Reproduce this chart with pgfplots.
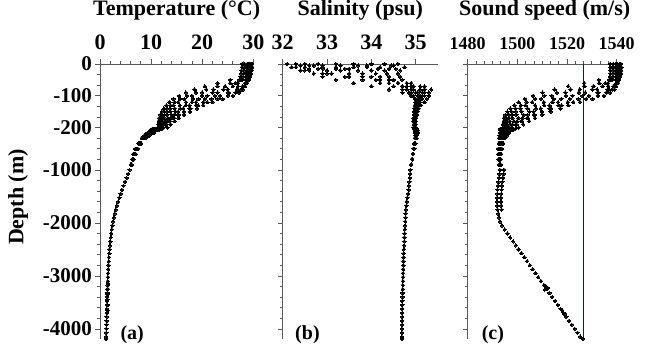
\documentclass[border=0pt]{standalone}
\usepackage{pgfplots}
\pgfplotsset{compat=1.18}
\usepackage{pgfplotstable}
\usepackage{fontspec}
\setmainfont{Liberation Serif}
\newcommand\ft[1]{\fontsize{#1bp}{#1bp}\selectfont\bfseries}

% upper-ocean temperature casts (depth m, deg C)
\pgfplotstableread{
d c1 c2 c3 c4 c5 c6 c7 c8 c9
0 29.8 28.8 29.5 29.0 28.3 29.6 27.8 29.2 28.9
-10 29.8 28.8 29.5 29.0 28.3 29.5 27.8 29.2 28.9
-20 29.7 28.7 29.4 29.0 28.2 29.5 27.7 29.1 28.8
-30 29.6 28.7 29.3 28.9 28.1 29.4 27.6 29.1 28.5
-40 29.2 28.6 29.2 28.8 28.0 29.3 27.5 29.0 27.5
-50 27.8 28.6 29.0 28.7 27.6 29.1 27.3 28.9 25.5
-60 25.5 28.5 28.5 28.4 26.5 28.8 27.0 28.7 23.0
-70 23.0 28.4 27.0 27.9 24.5 28.2 26.0 28.3 20.5
-80 20.8 28.0 25.0 26.8 22.2 27.0 24.2 27.6 18.5
-90 18.8 27.2 23.0 25.2 20.0 25.0 22.0 26.5 16.8
-100 17.0 26.0 21.0 23.5 18.0 22.5 20.0 25.0 15.5
-110 15.7 24.0 19.3 21.8 16.5 20.5 18.2 23.0 14.4
-120 14.6 22.0 18.0 20.2 15.3 18.8 16.8 21.0 13.6
-130 13.8 20.2 16.8 18.8 14.4 17.5 15.6 19.2 13.0
-140 13.1 19.0 15.7 17.5 13.7 16.3 14.6 17.7 12.5
-150 12.6 17.6 14.8 16.4 13.1 15.3 13.8 16.4 12.1
-160 12.2 16.4 14.0 15.4 12.6 14.5 13.1 15.3 11.8
-170 11.9 15.4 13.3 14.5 12.2 13.8 12.6 14.4 11.6
-180 11.7 14.6 12.7 13.7 11.9 13.1 12.2 13.6 11.5
-190 11.6 13.8 12.2 13.0 11.7 12.5 11.9 12.9 11.4
-200 11.5 13.2 11.8 12.4 11.6 12.0 11.7 12.3 11.3
-225 10.4 12.2 11.0 11.8 10.6 11.4 10.8 11.6 10.2
-250 10.02 11.46 10.5 11.14 10.18 10.82 10.34 10.98 9.86
-300 9.44 10.52 9.8 10.28 9.56 10.04 9.68 10.16 9.32
-350 8.8 9.7 9.1 9.5 8.9 9.3 9.0 9.4 8.7
-400 8.26 8.98 8.5 8.82 8.34 8.66 8.42 8.74 8.18
-500 7.52 8.06 7.7 7.94 7.58 7.82 7.64 7.88 7.46
-600 6.95 7.4 7.1 7.3 7.0 7.2 7.05 7.25 6.9
-700 6.58 6.94 6.7 6.86 6.62 6.78 6.66 6.82 6.54
-800 6.31 6.58 6.4 6.52 6.34 6.46 6.37 6.49 6.28
-900 6.04 6.22 6.1 6.18 6.06 6.14 6.08 6.16 6.02
}\Tup

% upper-ocean salinity casts (psu)
\pgfplotstableread{
d c1 c2 c3 c4 c5 c6 c7 c8 c9
0 32.1 32.5 33.2 33.6 34.0 34.3 34.6 32.8 32.3
-5 32.4 32.7 32.9 33.9 33.7 34.45 34.5 33.3 32.6
-10 32.2 32.5 33.2 33.6 33.9 34.2 34.75 32.9 32.3
-15 32.6 32.9 33.5 33.4 34.15 34.55 34.4 33.2 32.8
-20 32.4 32.6 33.3 33.7 34.0 34.3 34.65 33.0 32.5
-30 32.9 32.7 33.5 33.8 34.1 34.35 34.6 33.1 33.0
-40 33.5 32.9 33.8 34.0 34.2 34.4 34.65 33.4 33.8
-50 34.2 33.2 34.1 34.4 34.4 34.5 34.7 33.8 34.5
-60 34.6 33.6 34.4 34.9 34.6 34.6 34.8 34.2 34.9
-70 34.9 34.0 34.7 35.2 34.8 34.7 34.95 34.5 35.1
-80 35.1 34.4 34.9 35.35 34.95 34.8 35.1 34.7 35.2
-90 35.2 34.7 35.0 35.3 35.05 34.9 35.2 34.85 35.15
-100 35.15 34.9 35.05 35.2 35.1 34.95 35.3 34.95 35.1
-110 35.1 35.0 35.05 35.15 35.1 34.98 35.25 35.0 35.05
-120 35.05 35.05 35.0 35.1 35.08 35.0 35.2 35.02 35.03
-130 35.05 35.05 34.98 35.08 35.05 35.0 35.12 35.02 35.02
-140 35.02 35.03 34.97 35.06 35.03 35.0 35.06 35.01 35.0
-150 35.0 35.02 34.96 35.04 35.02 35.0 35.03 35.0 35.0
-160 35.0 35.0 34.96 35.02 35.01 35.0 35.02 34.99 34.99
-170 34.98 35.0 34.95 35.0 35.0 35.0 35.01 34.99 34.98
-180 34.97 34.99 34.95 34.99 35.0 35.0 35.0 34.98 34.97
-190 34.96 34.98 34.96 34.98 34.99 35.0 35.0 34.98 34.97
-200 34.95 34.97 34.96 34.98 34.99 35.0 35.0 34.98 34.96
-225 34.97 35.03 35.0 35.02 34.98 35.01 34.99 35.02 34.97
-250 34.98 35.04 35.01 35.03 34.99 35.02 35.0 35.03 34.98
-300 34.99 35.05 35.02 35.04 35.0 35.03 35.01 35.04 34.99
-350 34.995 35.025 35.01 35.02 35.0 35.015 35.005 35.02 34.995
-400 34.985 35.015 35.0 35.01 34.99 35.005 34.995 35.01 34.985
-500 34.965 34.995 34.98 34.99 34.97 34.985 34.975 34.99 34.965
-600 34.95 34.97 34.96 34.965 34.955 34.962 34.958 34.965 34.952
-700 34.935 34.945 34.94 34.943 34.937 34.941 34.939 34.943 34.935
-800 34.918 34.922 34.92 34.921 34.919 34.92 34.92 34.921 34.918
-900 34.899 34.901 34.9 34.9 34.9 34.9 34.9 34.901 34.899
}\Sup

% upper-ocean sound speed casts (m/s)
\pgfplotstableread{
d c1 c2 c3 c4 c5 c6 c7 c8 c9
0 1541.7 1539.6 1541.1 1540.0 1538.5 1541.3 1537.3 1540.4 1539.8
-10 1541.9 1539.8 1541.3 1540.2 1538.7 1541.3 1537.5 1540.6 1540.0
-20 1541.8 1539.6 1541.1 1540.3 1538.5 1541.4 1537.4 1540.5 1539.9
-30 1541.8 1539.8 1541.1 1540.3 1538.5 1541.3 1537.4 1540.7 1539.4
-40 1541.0 1539.7 1541.0 1540.2 1538.4 1541.2 1537.2 1540.6 1537.2
-50 1538.1 1539.9 1540.8 1540.1 1537.7 1541.0 1537.0 1540.6 1532.8
-60 1533.0 1539.9 1539.9 1539.7 1535.4 1540.6 1536.5 1540.3 1526.9
-70 1527.0 1539.8 1536.6 1538.7 1530.7 1539.3 1534.3 1539.6 1520.4
-80 1521.4 1539.1 1532.1 1536.3 1525.1 1536.8 1530.2 1538.2 1515.0
-90 1515.9 1537.4 1527.3 1532.7 1519.3 1532.2 1524.7 1535.8 1510.1
-100 1510.9 1534.8 1522.2 1528.8 1513.8 1526.2 1519.5 1532.4 1506.3
-110 1507.1 1530.2 1517.7 1524.6 1509.6 1521.1 1514.6 1527.7 1503.0
-120 1503.7 1525.2 1514.1 1520.3 1506.0 1516.4 1510.6 1522.5 1500.5
-130 1501.4 1520.5 1510.8 1516.6 1503.3 1512.9 1507.1 1517.8 1498.8
-140 1499.2 1517.3 1507.5 1513.0 1501.2 1509.4 1504.0 1513.6 1497.2
-150 1497.7 1513.4 1504.9 1509.9 1499.4 1506.5 1501.7 1509.9 1496.0
-160 1496.6 1510.1 1502.5 1507.0 1497.9 1504.1 1499.6 1506.7 1495.2
-170 1495.6 1507.1 1500.4 1504.2 1496.7 1502.0 1498.0 1503.9 1494.6
-180 1495.1 1504.7 1498.6 1501.9 1495.8 1499.9 1496.9 1501.5 1494.5
-190 1494.9 1502.3 1497.0 1499.7 1495.2 1498.0 1495.9 1499.4 1494.2
-200 1494.8 1500.5 1495.8 1497.8 1495.1 1496.5 1495.4 1497.5 1494.1
-225 1493.7 1499.1 1495.5 1497.9 1494.3 1496.7 1494.9 1497.3 1493.1
-250 1493.6 1497.9 1495.0 1496.9 1494.0 1496.0 1494.5 1496.4 1493.1
-300 1493.4 1496.7 1494.5 1495.9 1493.8 1495.2 1494.1 1495.6 1493.1
-350 1493.1 1495.8 1494.0 1495.2 1493.4 1494.6 1493.7 1494.9 1492.8
-400 1492.9 1495.0 1493.6 1494.6 1493.1 1494.1 1493.4 1494.3 1492.6
-500 1492.7 1494.3 1493.2 1493.9 1492.8 1493.6 1493.0 1493.7 1492.5
-600 1492.5 1493.8 1492.9 1493.5 1492.6 1493.2 1492.8 1493.4 1492.3
-700 1492.4 1493.5 1492.8 1493.3 1492.6 1493.0 1492.7 1493.2 1492.3
-800 1492.5 1493.3 1492.8 1493.2 1492.6 1493.0 1492.7 1493.1 1492.4
-900 1492.7 1493.3 1492.9 1493.1 1492.8 1493.0 1492.8 1493.1 1492.7
}\Cup

% deep profile: depth, temperature, salinity, sound speed
\pgfplotstableread{
d T S C
-1000 5.8 34.88 1493.0
-1075 5.5 34.875 1492.8
-1150 5.2 34.87 1492.6
-1225 4.9 34.86 1492.4
-1300 4.6 34.85 1492.2
-1375 4.3 34.84 1492.0
-1450 4.05 34.83 1491.9
-1525 3.8 34.815 1491.8
-1600 3.55 34.80 1491.8
-1675 3.3 34.79 1491.9
-1750 3.1 34.78 1492.0
-1825 2.9 34.775 1492.3
-1900 2.72 34.77 1492.6
-1975 2.55 34.765 1493.0
-2050 2.42 34.76 1493.8
-2125 2.3 34.755 1494.9
-2200 2.2 34.75 1496.0
-2275 2.1 34.748 1497.1
-2350 2.02 34.745 1498.3
-2425 1.95 34.74 1499.4
-2500 1.88 34.735 1500.5
-2575 1.82 34.73 1501.6
-2650 1.76 34.728 1502.8
-2725 1.71 34.725 1503.9
-2800 1.66 34.722 1505.0
-2875 1.62 34.72 1506.1
-2950 1.58 34.717 1507.3
-3025 1.55 34.715 1508.4
-3100 1.52 34.712 1509.5
-3175 1.49 34.71 1510.7
-3250 1.46 34.708 1511.8
-3325 1.43 34.705 1512.9
-3400 1.41 34.703 1514.0
-3475 1.39 34.70 1515.2
-3550 1.37 34.70 1516.3
-3625 1.35 34.698 1517.4
-3700 1.33 34.697 1518.6
-3775 1.31 34.695 1519.7
-3850 1.29 34.694 1520.8
-3925 1.27 34.693 1521.9
-4000 1.26 34.692 1523.1
-4075 1.24 34.691 1524.2
-4150 1.22 34.69 1525.3
-4190 1.21 34.69 1526.4
}\Deep

\pgfplotsset{
  prof/.style={
    scale only axis, height=275bp, anchor=north west,
    ymin=-4190, ymax=0, clip=false,
    y coord trafo/.code={\pgfmathparse{##1>-200 ? ##1*0.03 : -6+(##1+200)*0.005}},
    axis x line*=top, axis y line*=left,
    axis line style={black!65, line width=0.8bp},
    tick style={black!65, line width=0.8bp},
    major tick length=5bp, minor tick length=3bp, tick align=outside,
    ytick={0,-100,-200,-1000,-2000,-3000,-4000},
    minor ytick={-33.33,-66.67,-133.33,-166.67,-400,-600,-800,-1200,-1400,-1600,-1800,-2200,-2400,-2600,-2800,-3200,-3400,-3600,-3800},
    yticklabels={},
    yticklabel style={font=\ft{21}, inner sep=3bp},
    xticklabel style={font=\ft{22}, anchor=base, yshift=9.7bp},
  },
  dots/.style={only marks, mark=*, mark size=1.7bp, mark options={draw=black, fill=black, line width=0pt}},
}

\begin{document}
\begin{tikzpicture}
\useasboundingbox (0,0) rectangle (656bp,351bp);

% (a) temperature
\begin{axis}[prof, at={(100bp,287bp)}, width=153.3bp,
  xmin=0, xmax=30, xtick={0,10,20,30}, xticklabels={0,10,20,30}, minor x tick num=4,
  yticklabels={0,-100,-200,-1000,-2000,-3000,-4000}]
\pgfplotsinvokeforeach{c1,c2,c3,c4,c5,c6,c7,c8,c9}{\addplot[dots] table[x=#1,y=d]{\Tup};}
\addplot[dots] table[x=T,y=d]{\Deep};
\addplot[dots] coordinates {(1.6,-3150) (1.55,-3250) (1.5,-3350) (1.48,-3450) (1.45,-3550) (1.43,-3650)};
\node[font=\ft{22}, anchor=base] at (rel axis cs:0.5,1) [yshift=48bp] {Temperature (°C)};
\node[font=\ft{20}, anchor=base west] at (rel axis cs:0,0) [xshift=17bp] {(a)};
\end{axis}

% (b) salinity
\begin{axis}[prof, at={(282.7bp,287bp)}, width=155.1bp,
  xmin=32, xmax=35.5, xtick={32,33,34,35}, xticklabels={32,33,34,35}]
\pgfplotsinvokeforeach{c1,c2,c3,c4,c5,c6,c7,c8,c9}{\addplot[dots] table[x=#1,y=d]{\Sup};}
\addplot[dots] table[x=S,y=d]{\Deep};
\node[font=\ft{22}, anchor=base] at (rel axis cs:0.5,1) [yshift=48bp] {Salinity (psu)};
\node[font=\ft{20}, anchor=base west] at (rel axis cs:0,0) [xshift=9bp] {(b)};
\end{axis}

% (c) sound speed
\begin{axis}[prof, at={(467.7bp,287bp)}, width=154bp,
  xmin=1480, xmax=1542, xtick={1480,1500,1520,1540}, xticklabels={1480,1500,1520,1540},
  minor x tick num=5, xticklabel style={font=\ft{18}}]
\pgfplotsinvokeforeach{c1,c2,c3,c4,c5,c6,c7,c8,c9}{\addplot[dots] table[x=#1,y=d]{\Cup};}
\addplot[dots] table[x=C,y=d]{\Deep};
\addplot[dots] coordinates {(1494.6,-1000) (1494.4,-1075) (1494.2,-1150) (1494.0,-1225) (1493.8,-1300) (1493.6,-1375) (1493.5,-1450) (1493.4,-1525) (1493.4,-1600) (1493.5,-1675) (1493.6,-1750) (1511.5,-3200) (1512.2,-3230) (1511.0,-3260) (1518.0,-3650) (1519.0,-3720)};
\addplot[color=blue, line width=1.3bp, mark=none] coordinates {(1526.5,0) (1526.5,-4190)};
\node[font=\ft{22}, anchor=base] at (rel axis cs:0.5,1) [yshift=48bp] {Sound speed (m/s)};
\node[font=\ft{20}, anchor=base west] at (rel axis cs:0,0) [xshift=10.6bp] {(c)};
\end{axis}

\node[font=\ft{22}, rotate=90] at (18bp,154bp) {Depth (m)};
\end{tikzpicture}
\end{document}
